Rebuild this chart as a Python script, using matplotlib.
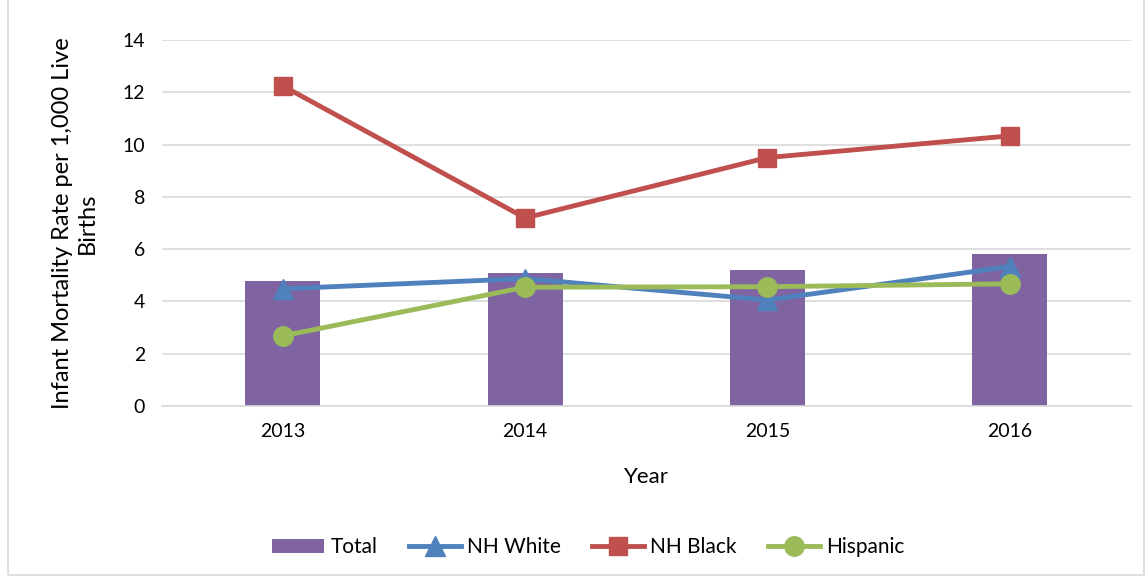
import matplotlib.pyplot as plt
import matplotlib.patches as mpatches
import numpy as np

# Data
years = ['2013', '2014', '2015', '2016']
total = [4.78, 5.09, 5.2, 5.81]
nh_white = [4.48, 4.87, 4.05, 5.33]
nh_black = [12.24, 7.19, 9.5, 10.33]
hispanic = [2.68, 4.54, 4.56, 4.67]

plt.rcParams['font.family'] = ['Lato', 'DejaVu Sans']

fig = plt.figure(figsize=(11.47, 5.79), dpi=100)
ax = fig.add_axes([0.141, 0.299, 0.845, 0.632])

x = np.arange(len(years))
b = ax.bar(x, total, width=0.31, color='#8064A2', label='Total', zorder=2)
l1, = ax.plot(x, nh_white, color='#4F81BD', lw=3.5, marker='^', ms=14, label='NH White', zorder=3)
l2, = ax.plot(x, nh_black, color='#C0504D', lw=3.5, marker='s', ms=13, label='NH Black', zorder=3)
l3, = ax.plot(x, hispanic, color='#9BBB59', lw=3.5, marker='o', ms=14, label='Hispanic', zorder=4)

ax.set_xlim(-0.5, 3.5)
ax.set_ylim(0, 14)
ax.set_yticks(range(0, 15, 2))
ax.set_xticks(x)
ax.set_xticklabels(years)
ax.tick_params(axis='both', length=0, labelsize=14, pad=12)
ax.grid(True, axis='y', color='#D9D9D9', lw=1.2, zorder=0)
for s in ['top', 'right', 'left']:
    ax.spines[s].set_visible(False)
ax.spines['bottom'].set_color('#D9D9D9')
ax.spines['bottom'].set_linewidth(1.2)

ax.set_xlabel('Year', fontsize=16, labelpad=20)
ax.set_ylabel('Infant Mortality Rate per 1,000 Live\nBirths', fontsize=17, labelpad=18)

ax.legend([b, l1, l2, l3], ['Total', 'NH White', 'NH Black', 'Hispanic'],
          loc='center', bbox_to_anchor=(0.513, 0.055), bbox_transform=fig.transFigure,
          ncol=4, frameon=False, fontsize=15, handlelength=2.5, columnspacing=1.5,
          handletextpad=0.3)

# light frame around the chart
fig.patches.append(mpatches.Rectangle((0.007, 0.007), 0.99, 1.1, transform=fig.transFigure,
                                      fill=False, edgecolor='#D9D9D9', lw=1.2))

fig.savefig('out.png', dpi=100, facecolor='white')
